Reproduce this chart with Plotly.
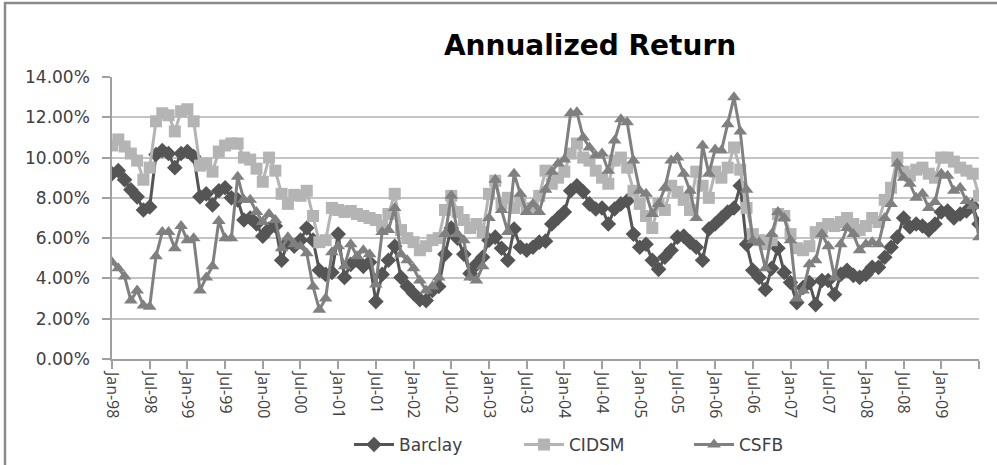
import plotly.graph_objects as go

# ---- data (annualized return, %), monthly Jan-98 .. Jul-09 ----
years = [str(y)[-2:] for y in range(1998, 2010)]
month_names = ["Jan", "Feb", "Mar", "Apr", "May", "Jun", "Jul", "Aug", "Sep", "Oct", "Nov", "Dec"]
months = [f"{m}-{y}" for y in years for m in month_names][:139]

barclay = [
    9.2, 9.35, 8.9, 8.4, 8.05, 7.4, 7.55, 10.15, 10.35, 10.2, 9.5, 10.2,
    10.3, 10.05, 8.05, 8.2, 7.65, 8.35, 8.5, 8.0, 7.9, 6.9, 7.0, 6.7,
    6.1, 6.45, 6.6, 4.9, 5.8, 5.6, 5.9, 6.5, 5.9, 4.4, 4.2, 4.3,
    6.2, 4.05, 4.7, 4.9, 4.6, 4.8, 2.85, 4.2, 4.9, 5.6, 4.05, 3.6,
    3.25, 2.95, 2.9, 3.4, 3.6, 5.2, 6.5, 6.0, 5.2, 4.25, 4.7, 5.05,
    5.9, 6.05, 5.5, 4.9, 6.45, 5.55, 5.4, 5.55, 5.8, 5.85, 6.7, 7.0,
    7.3, 8.35, 8.6, 8.3, 7.7, 7.45, 7.5, 6.7, 7.45, 7.7, 7.85, 6.2,
    5.55, 5.7, 4.9, 4.45, 5.05, 5.4, 6.05, 6.1, 5.8, 5.55, 4.9, 6.45,
    6.7, 7.0, 7.3, 7.5, 8.6, 5.7, 4.4, 4.05, 3.45, 4.5, 5.5, 4.3,
    3.8, 2.8, 3.55, 3.8, 2.7, 3.9, 3.9, 3.2, 4.2, 4.4, 4.15, 4.05,
    4.2, 4.55, 4.55, 5.05, 5.55, 6.05, 7.0, 6.55, 6.7, 6.6, 6.4, 6.7,
    7.3, 7.35, 7.0, 7.2, 7.35, 7.6, 6.7,
]

cidsm = [
    10.6, 10.9, 10.55, 10.2, 9.85, 8.9, 9.5, 11.8, 12.2, 12.1, 11.3, 12.3,
    12.4, 11.8, 9.6, 9.7, 9.3, 10.3, 10.6, 10.7, 10.7, 10.0, 9.9, 9.45,
    8.8, 10.0, 9.35, 8.2, 7.7, 8.15, 8.1, 8.35, 7.1, 5.8, 5.9, 7.5,
    7.4, 7.3, 7.35, 7.2, 7.1, 7.0, 6.9, 6.6, 7.2, 8.2, 6.4, 6.0,
    5.8, 5.4, 5.6, 5.9, 6.0, 7.4, 8.1, 7.3, 6.9, 6.5, 6.7, 6.3,
    8.2, 8.85, 7.7, 8.0, 7.5, 7.85, 7.45, 7.5, 8.1, 9.35, 8.7, 9.0,
    9.3, 10.2, 10.7, 10.0, 9.85, 9.35, 9.0, 8.7, 9.85, 10.0, 9.5, 8.35,
    7.7, 7.1, 6.5, 7.7, 7.4, 8.6, 8.3, 7.9, 7.4, 9.3, 8.6, 8.0,
    9.3, 9.0, 9.5, 10.5, 9.4, 7.5, 6.2, 5.9, 5.7, 5.9, 7.2, 7.1,
    6.2, 5.5, 5.4, 5.6, 6.3, 6.5, 6.7, 6.6, 6.8, 7.0, 6.7, 6.4,
    6.6, 7.0, 6.8, 7.9, 8.5, 10.0, 9.3, 9.1, 9.4, 9.5, 9.2, 9.0,
    10.0, 10.0, 9.8, 9.5, 9.35, 9.2, 8.1,
]

csfb = [
    4.8, 4.5, 4.1, 2.9, 3.4, 2.65, 2.6, 5.1, 6.3, 6.3, 5.5, 6.6,
    5.9, 6.0, 3.4, 4.05, 4.6, 6.85, 6.0, 6.0, 9.05, 7.9, 7.9, 7.3,
    6.8, 7.2, 6.9, 5.5, 6.05, 5.7, 5.6, 5.25, 3.6, 2.45, 3.0, 5.3,
    5.6, 4.6, 5.7, 5.1, 5.4, 5.2, 3.7, 6.3, 6.4, 7.5, 5.2, 4.9,
    4.5, 3.9, 3.4, 3.6, 4.05, 6.2, 8.1, 6.2, 5.9, 4.05, 3.9, 4.6,
    7.0, 8.9, 7.4, 6.3, 9.2, 8.2, 7.3, 7.7, 7.3, 8.4, 9.3, 9.7,
    9.9, 12.2, 12.25, 11.0, 10.5, 10.1, 10.2, 9.35, 10.85, 11.9, 11.75, 9.85,
    8.35, 8.2, 7.2, 7.7, 8.5, 9.85, 10.0, 9.2, 8.35, 7.0, 10.6, 9.2,
    10.4, 10.35, 11.65, 13.0, 11.3, 8.4, 5.9, 5.8, 4.5, 6.2, 7.3, 7.0,
    5.9, 3.0, 3.4, 4.7, 4.9, 6.2, 5.6, 4.05, 5.7, 6.5, 6.2, 5.4,
    5.7, 5.8, 5.7, 7.0, 7.7, 9.7, 9.0, 8.7, 8.0, 8.2, 7.5, 7.8,
    9.2, 9.1, 8.35, 8.5, 7.85, 7.6, 6.05,
]

series_names = ["Barclay", "CIDSM", "CSFB"]
y_ticks = [0, 2, 4, 6, 8, 10, 12, 14]

# ---- figure ----
W, H = 997, 465
L, R, T, B = 112, 18, 77, 106
PW, PH = W - L - R, H - T - B


def px_x(p):
    return (p - L) / PW


def px_y(p):
    return (H - B - p) / PH


styles = [
    dict(color="#555555", symbol="diamond", size=12),
    dict(color="#b4b4b4", symbol="square", size=12),
    dict(color="#808080", symbol="triangle-up", size=12),
]

fig = go.Figure()
for name, vals, st in zip(series_names, [barclay, cidsm, csfb], styles):
    fig.add_trace(go.Scatter(
        x=months, y=[v / 100 for v in vals], name=name, mode="lines+markers",
        line=dict(color=st["color"], width=3),
        marker=dict(symbol=st["symbol"], size=st["size"], color=st["color"],
                    line=dict(width=0)),
    ))

tick_idx = list(range(0, 139, 6))
fig.update_layout(
    width=W, height=H,
    margin=dict(l=L, r=R, t=T, b=B, autoexpand=False),
    paper_bgcolor="white", plot_bgcolor="white",
    font=dict(family="DejaVu Sans", color="#404040"),
    title=dict(text="<b>Annualized Return</b>", x=590 / W, xanchor="center",
               y=1 - 45 / H, yanchor="middle", yref="container",
               font=dict(size=28, color="black", family="DejaVu Sans")),
    showlegend=True,
    legend=dict(orientation="h", x=px_x(349), xanchor="left", y=px_y(445),
                yanchor="middle", font=dict(size=17, color="#404040", family="DejaVu Sans"),
                entrywidth=115, entrywidthmode="pixels", itemwidth=40,
                bgcolor="rgba(0,0,0,0)"),
    xaxis=dict(type="category", categoryorder="array", categoryarray=months,
               range=[0, 138], tickmode="array",
               tickvals=[months[i] for i in tick_idx],
               ticktext=[months[i] if i < 138 else "" for i in tick_idx],
               tickangle=90, ticks="outside", ticklen=8, tickcolor="#a0a0a0",
               tickwidth=1.5, showline=True, linecolor="#a0a0a0", linewidth=1.5,
               showgrid=False, zeroline=False, automargin=False,
               tickfont=dict(size=16, color="#404040", family="Open Sans")),
    yaxis=dict(range=[0, 0.14], tickmode="array", tickvals=[v / 100 for v in y_ticks],
               tickformat=".2%", ticks="outside", ticklen=8, tickcolor="#a0a0a0",
               tickwidth=1.5, showline=True, linecolor="#a0a0a0", linewidth=1.5,
               showgrid=True, gridcolor="#c4c4c4", gridwidth=1.5, zeroline=False,
               automargin=False,
               tickfont=dict(size=17, color="#404040", family="DejaVu Sans"),
               ticklabelstandoff=9),
    shapes=[dict(type="rect", xref="paper", yref="paper",
                 x0=px_x(5), x1=px_x(1010), y0=px_y(475), y1=px_y(3),
                 line=dict(color="#8a8a8a", width=2.5), layer="below")],
)

fig.write_html("out.html", config={"displayModeBar": False},
               post_script="document.body.style.margin='0';document.body.style.overflow='hidden';")
